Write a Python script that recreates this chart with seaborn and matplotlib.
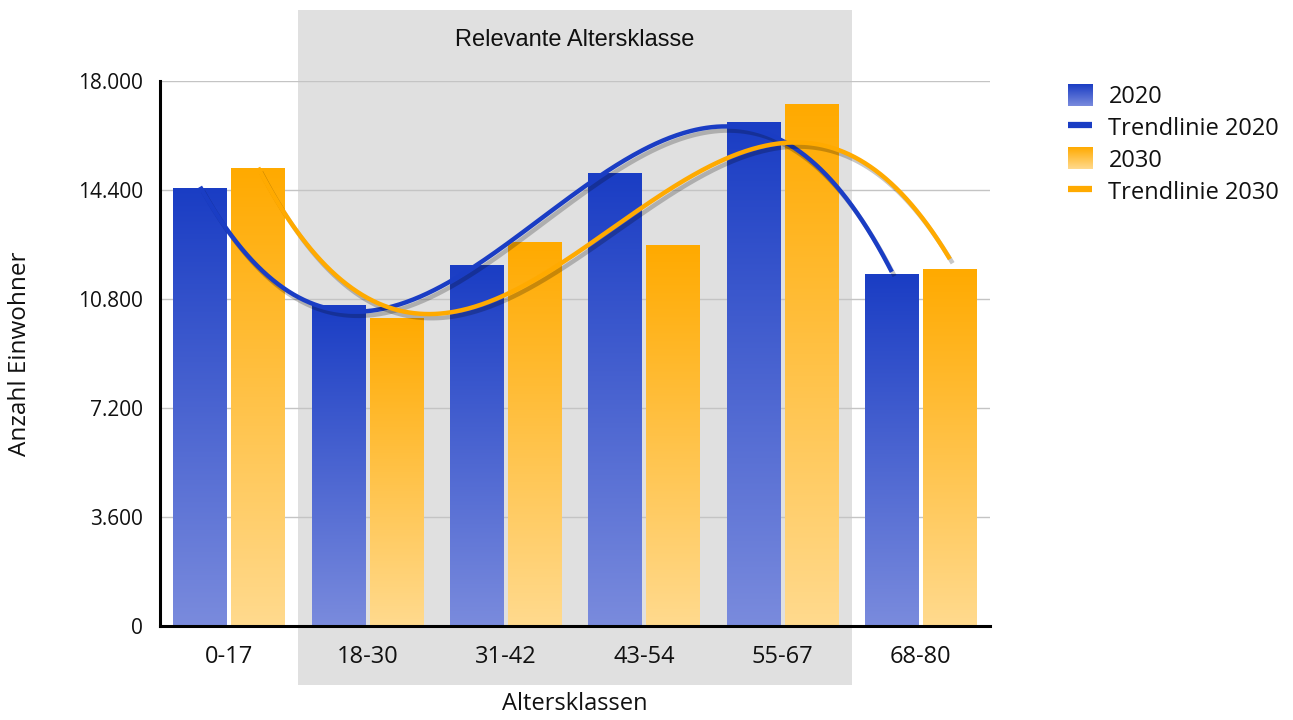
import numpy as np
import pandas as pd
import matplotlib
matplotlib.use("Agg")
import matplotlib.pyplot as plt
import seaborn as sns
from matplotlib import patheffects as pe
from matplotlib.colors import LinearSegmentedColormap
from matplotlib.image import BboxImage
from matplotlib.transforms import Bbox, TransformedBbox, blended_transform_factory
from matplotlib.legend_handler import HandlerBase
from matplotlib.patches import Rectangle
from matplotlib.lines import Line2D
from matplotlib.ticker import FuncFormatter, FixedLocator

# --- data -------------------------------------------------------------
age_classes = ["0-17", "18-30", "31-42", "43-54", "55-67", "68-80"]
residents_2020 = [14450, 10570, 11890, 14960, 16640, 11620]
residents_2030 = [15120, 10170, 12680, 12580, 17240, 11790]
years = ["2020", "2030"]
y_ticks = [0, 3600, 7200, 10800, 14400, 18000]
relevant_classes = ["18-30", "31-42", "43-54", "55-67"]

# --- styling ----------------------------------------------------------
bar_gradients = {"2020": ("#7a8bdd", "#1a3dc4"), "2030": ("#ffda8e", "#ffaa00")}
line_colors = {"2020": "#1a3dc4", "2030": "#ffaa00"}
cmaps = {y: LinearSegmentedColormap.from_list(f"grad_{y}", bar_gradients[y]) for y in years}

df = pd.DataFrame({
    "Altersklasse": age_classes * 2,
    "Jahr": ["2020"] * len(age_classes) + ["2030"] * len(age_classes),
    "Einwohner": residents_2020 + residents_2030,
})
values = {"2020": residents_2020, "2030": residents_2030}

sns.set_theme(style="white")
plt.rcParams["font.family"] = ["Open Sans", "DejaVu Sans"]
TXT = "#111111"

fig = plt.figure(figsize=(12.93, 7.2), dpi=100)
ax = fig.add_axes([160 / 1293, 94 / 720, 830 / 1293, 545 / 720])
ax.patch.set_alpha(0)

sns.barplot(data=df, x="Altersklasse", y="Einwohner", hue="Jahr",
            order=age_classes, hue_order=years,
            palette=[line_colors[y] for y in years], saturation=1,
            width=0.84, gap=0.08, errorbar=None, legend=False, ax=ax)

xlim = (-0.5, len(age_classes) - 0.5)
ylim = (0, y_ticks[-1])

# vertical gradient fill for every bar
grad = np.linspace(0, 1, 256).reshape(-1, 1)
centers = {}
for year, container in zip(years, ax.containers):
    centers[year] = []
    for bar in container:
        x0, w, h = bar.get_x(), bar.get_width(), bar.get_height()
        ax.imshow(grad, extent=[x0, x0 + w, 0, h], origin="lower", aspect="auto",
                  cmap=cmaps[year], interpolation="bilinear", zorder=2)
        bar.set_visible(False)
        centers[year].append(x0 + w / 2)

# cubic trend lines through each series
idx = np.arange(len(age_classes))
for year in years:
    coef = np.polyfit(idx, values[year], 3)
    t = np.linspace(0, len(age_classes) - 1, 400)
    xs = np.interp(t, idx, centers[year])
    ax.plot(xs, np.polyval(coef, t), color=line_colors[year], lw=3.2,
            solid_capstyle="butt", zorder=4,
            path_effects=[pe.SimpleLineShadow(offset=(2, -3), shadow_color="#000000", alpha=0.22),
                          pe.Normal()])

ax.set_xlim(*xlim)
ax.set_ylim(*ylim)

# highlighted band of relevant age classes
band_idx = [age_classes.index(c) for c in relevant_classes]
blend = blended_transform_factory(ax.transData, ax.transAxes)
ax.add_patch(Rectangle((min(band_idx) - 0.5, (626 - 685) / 545),
                       max(band_idx) - min(band_idx) + 1, (685 - 10) / 545,
                       transform=blend, clip_on=False, facecolor="#e0e0e0",
                       edgecolor="none", zorder=0))
ax.text((min(band_idx) + max(band_idx)) / 2, (626 - 40) / 545, "Relevante Altersklasse",
        transform=blend, ha="center", va="center", fontsize=17,
        family=["Liberation Sans", "DejaVu Sans"], color=TXT)

# axes, grid, ticks
ax.yaxis.set_major_locator(FixedLocator(y_ticks))
ax.yaxis.set_major_formatter(FuncFormatter(lambda v, p: f"{v:,.0f}".replace(",", ".")))
ax.set_axisbelow(True)
ax.grid(axis="y", color="#c4c4c4", lw=1)
ax.grid(axis="x", visible=False)
for s in ["top", "right"]:
    ax.spines[s].set_visible(False)
for s in ["left", "bottom"]:
    ax.spines[s].set_color("black")
    ax.spines[s].set_linewidth(2.2)
    ax.spines[s].set_zorder(5)
ax.tick_params(axis="both", length=0, colors=TXT)
ax.tick_params(axis="x", pad=14, labelsize=17)
ax.tick_params(axis="y", pad=12, labelsize=15)
ax.set_xlabel("Altersklassen", fontsize=17, color=TXT)
ax.set_ylabel("Anzahl Einwohner", fontsize=17.5, color=TXT)
ax.xaxis.set_label_coords(0.5, (24 + 4 - 94) / 545)
ax.yaxis.set_label_coords((32 - 160) / 830, 0.5)


class GradientHandler(HandlerBase):
    def __init__(self, cmap):
        super().__init__()
        self.cmap = cmap

    def create_artists(self, legend, orig_handle, xdescent, ydescent, width, height, fontsize, trans):
        bb = Bbox.from_bounds(-xdescent, -ydescent, width, height)
        img = BboxImage(TransformedBbox(bb, trans), cmap=self.cmap,
                        interpolation="bilinear", origin="lower")
        img.set_data(grad)
        return [img]


h2020 = Rectangle((0, 0), 1, 1)
h2030 = Rectangle((0, 0), 1, 1)
handles = [h2020,
           Line2D([], [], color=line_colors["2020"], lw=4.5, solid_capstyle="butt"),
           h2030,
           Line2D([], [], color=line_colors["2030"], lw=4.5, solid_capstyle="butt")]
labels = ["2020", "Trendlinie 2020", "2030", "Trendlinie 2030"]
fig.legend(handles, labels, loc="upper left", bbox_to_anchor=(1068 / 1293, 1 - 84 / 720),
           frameon=False, fontsize=17, handlelength=1.03, handleheight=1.03,
           handletextpad=0.68, labelspacing=0.3, borderpad=0, borderaxespad=0,
           labelcolor=TXT,
           handler_map={h2020: GradientHandler(cmaps["2020"]), h2030: GradientHandler(cmaps["2030"])})

fig.savefig("out.png", dpi=100)
